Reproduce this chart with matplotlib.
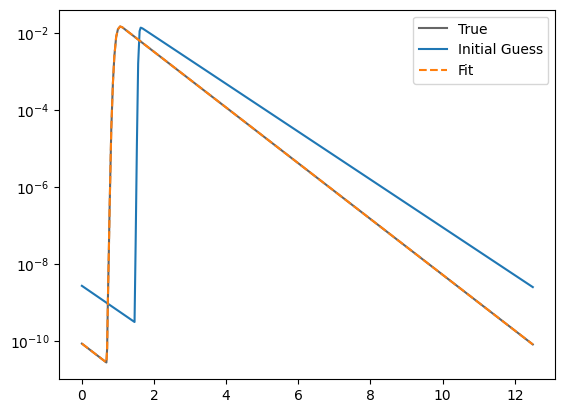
import numpy as np
import matplotlib
matplotlib.use("Agg")
import matplotlib.pyplot as plt
from matplotlib.ticker import FixedLocator, NullLocator

# values (log-scale y)
t_true = [0.0, 0.68, 0.70, 0.72, 0.745, 0.77, 0.815, 0.86, 0.90, 0.95, 1.0, 1.06, 1.12, 12.5]
y_true = [8.5e-11, 2.75e-11, 6.3e-11, 1.0e-9, 1.6e-8, 3.2e-7, 3.2e-5, 5.0e-4,
          2.5e-3, 7.9e-3, 1.26e-2, 1.48e-2, 1.41e-2, 8.1e-11]

t_guess = [0.0, 1.46, 1.49, 1.525, 1.56, 1.60, 1.63, 1.68, 12.5]
y_guess = [2.7e-9, 3.1e-10, 3.2e-8, 1.26e-5, 1.6e-3, 1.12e-2, 1.38e-2, 1.32e-2, 2.5e-9]

# fit lies on top of the true curve
t_fit = t_true
y_fit = y_true

yticks = [1e-10, 1e-8, 1e-6, 1e-4, 1e-2]

fig, ax = plt.subplots(figsize=(6.4, 4.8), dpi=100)
ax.plot(t_true, y_true, color="k", alpha=0.6, label="True")
ax.plot(t_guess, y_guess, color="C0", label="Initial Guess")
ax.plot(t_fit, y_fit, "--", color="C1", label="Fit")
ax.set_yscale("log")
ax.yaxis.set_major_locator(FixedLocator(yticks))
ax.yaxis.set_minor_locator(NullLocator())
ax.legend()
plt.savefig("out.png", dpi=100, bbox_inches="tight")
